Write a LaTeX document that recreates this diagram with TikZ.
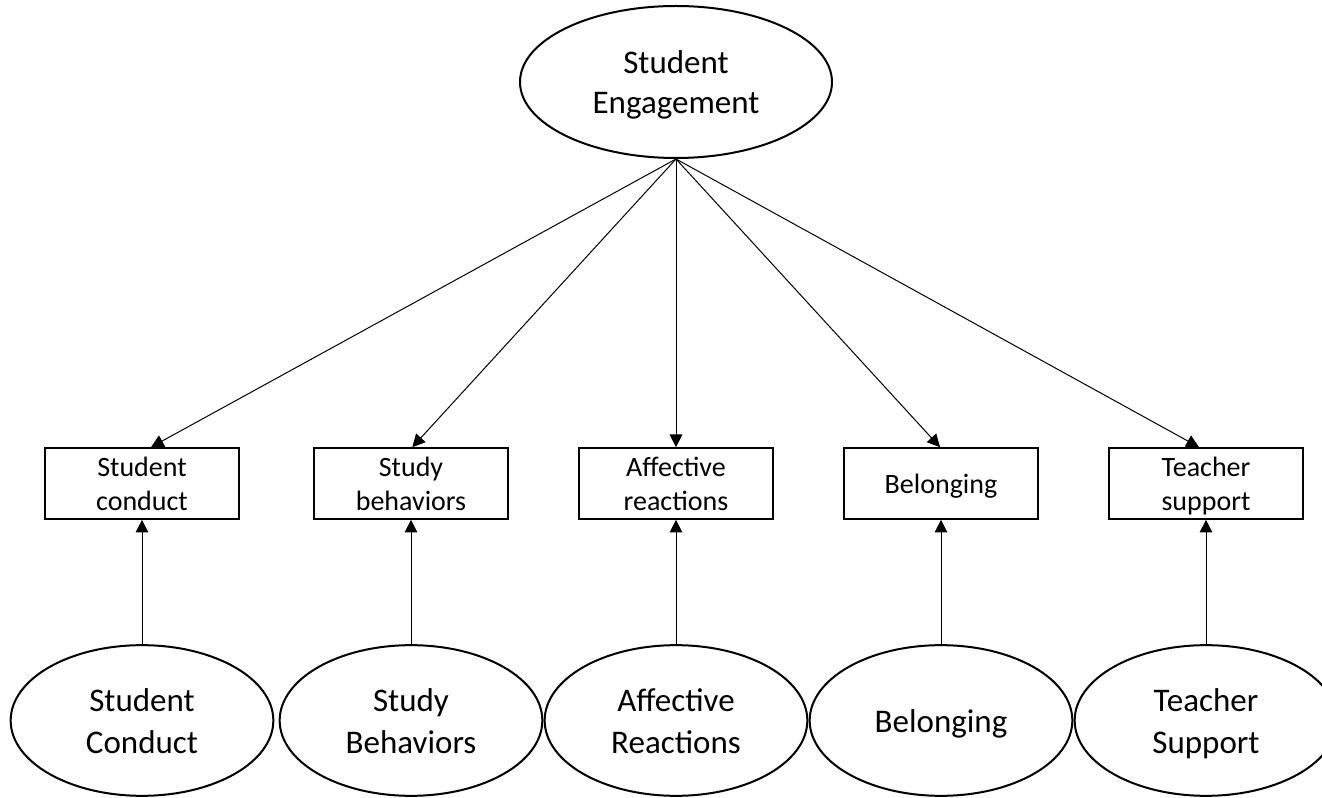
\documentclass[tikz,border=0pt]{standalone}
\usepackage{fontspec}
\setmainfont{Carlito}
\usetikzlibrary{shapes.geometric,arrows.meta}
\newcommand\nodetext[1]{\raisebox{-2.5pt}[\height][\depth]{\begin{tabular}{@{}c@{}}#1\end{tabular}}}
\begin{document}
\begin{tikzpicture}[x=0.75pt,y=-0.75pt,
  bigell/.style={draw,line width=1.5pt,ellipse,inner sep=0pt,minimum width=234pt,minimum height=114pt,font=\fontsize{24.75}{30}\selectfont},
  lowell/.style={draw,line width=1.5pt,ellipse,inner sep=0pt,minimum width=197pt,minimum height=113pt,font=\fontsize{24.75}{31.5}\selectfont},
  itembox/.style={draw,line width=1.5pt,rectangle,inner sep=0pt,minimum width=145pt,minimum height=53pt,font=\fontsize{21}{25.5}\selectfont},
  conn/.style={line width=0.75pt,-{Triangle[length=9.5pt,width=9.5pt]}}]
\useasboundingbox (0,0) rectangle (1322,798);

\node[bigell] (top) at (676,82) {\nodetext{Student\\Engagement}};

\node[itembox] (b1) at (142,483.5) {\nodetext{Student\\conduct}};
\node[itembox] (b2) at (411,483.5) {\nodetext{Study\\behaviors}};
\node[itembox] (b3) at (676,483.5) {\nodetext{Affective\\reactions}};
\node[itembox] (b4) at (941,483.5) {\nodetext{Belonging}};
\node[itembox] (b5) at (1206,483.5) {\nodetext{Teacher\\support}};

\node[lowell] (e1) at (142,720.5) {\nodetext{Student\\Conduct}};
\node[lowell] (e2) at (411,720.5) {\nodetext{Study\\Behaviors}};
\node[lowell] (e3) at (676,720.5) {\nodetext{Affective\\Reactions}};
\node[lowell] (e4) at (941,720.5) {\nodetext{Belonging}};
\node[lowell] (e5) at (1206,720.5) {\nodetext{Teacher\\Support}};

\draw[conn] (top.south) -- ([xshift=6.75pt]b1.north);
\draw[conn] (top.south) -- ([xshift=1pt]b2.north);
\draw[conn] (top.south) -- (b3.north);
\draw[conn] (top.south) -- ([xshift=-0.75pt]b4.north);
\draw[conn] (top.south) -- ([xshift=-5.25pt]b5.north);

\draw[conn] (e1.north) -- (b1.south);
\draw[conn] (e2.north) -- (b2.south);
\draw[conn] (e3.north) -- (b3.south);
\draw[conn] (e4.north) -- (b4.south);
\draw[conn] (e5.north) -- (b5.south);
\end{tikzpicture}
\end{document}
